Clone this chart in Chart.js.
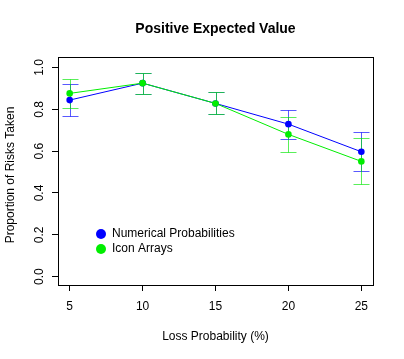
<!DOCTYPE html>
<html>
<head>
<meta charset="utf-8">
<script src="https://cdn.jsdelivr.net/npm/chart.js@4.4.1/dist/chart.umd.min.js"></script>
<style>
html,body{margin:0;padding:0;background:#fff;}
#wrap{width:404px;height:359px;}
</style>
</head>
<body>
<div id="wrap"><canvas id="c" width="404" height="359"></canvas></div>
<script>
// ---- data ----
const chartTitle = "Positive Expected Value";
const xAxisTitle = "Loss Probability (%)";
const yAxisTitle = "Proportion of Risks Taken";
const lossProb = [5, 10, 15, 20, 25];
const xTicks = [5, 10, 15, 20, 25];
const yTicks = [0.0, 0.2, 0.4, 0.6, 0.8, 1.0];
const seriesNames = ["Numerical Probabilities", "Icon Arrays"];
const numericalMean  = [0.844, 0.925, 0.828, 0.729, 0.597];
const numericalLower = [0.767, 0.874, 0.776, 0.658, 0.503];
const numericalUpper = [0.919, 0.974, 0.882, 0.798, 0.691];
const iconMean  = [0.876, 0.925, 0.828, 0.680, 0.551];
const iconLower = [0.806, 0.874, 0.776, 0.594, 0.441];
const iconUpper = [0.943, 0.974, 0.882, 0.764, 0.661];
const seriesColors = ["#0000ff", "#00ee00"];
const barColors = ["rgba(0,0,255,0.65)", "rgba(0,230,0,0.65)"];

const FONT = "'Liberation Sans', Arial, Helvetica, sans-serif";

const lows = [numericalLower, iconLower];
const highs = [numericalUpper, iconUpper];

const rStyle = {
  id: 'rStyle',
  beforeDatasetsDraw(chart) {
    const ctx = chart.ctx, xs = chart.scales.x, ys = chart.scales.y;
    ctx.save();
    ctx.lineWidth = 1;
    for (let s = 0; s < 2; s++) {
      ctx.strokeStyle = barColors[s];
      for (let i = 0; i < lossProb.length; i++) {
        const px = Math.round(xs.getPixelForValue(lossProb[i])) + 0.5;
        const pl = Math.round(ys.getPixelForValue(lows[s][i])) + 0.5;
        const ph = Math.round(ys.getPixelForValue(highs[s][i])) + 0.5;
        ctx.beginPath();
        ctx.moveTo(px, pl); ctx.lineTo(px, ph);
        ctx.moveTo(px - 8, pl); ctx.lineTo(px + 8, pl);
        ctx.moveTo(px - 8, ph); ctx.lineTo(px + 8, ph);
        ctx.stroke();
      }
    }
    ctx.restore();
  },
  afterDraw(chart) {
    const ctx = chart.ctx, a = chart.chartArea, ys = chart.scales.y;
    ctx.save();
    // box
    ctx.strokeStyle = '#000';
    ctx.lineWidth = 1;
    ctx.strokeRect(Math.round(a.left) + 0.5, Math.round(a.top) + 0.5,
                   Math.round(a.right - a.left), Math.round(a.bottom - a.top));
    ctx.fillStyle = '#000';
    // y tick labels rotated
    ctx.font = "12px " + FONT;
    ctx.textAlign = 'center';
    ctx.textBaseline = 'middle';
    yTicks.forEach(v => {
      const py = ys.getPixelForValue(v);
      ctx.save();
      ctx.translate(40, py);
      ctx.rotate(-Math.PI / 2);
      ctx.fillText(v.toFixed(1), 0, 0);
      ctx.restore();
    });
    // title
    const cx = (a.left + a.right) / 2;
    ctx.font = "bold 14px " + FONT;
    ctx.fillText(chartTitle, cx, 29);
    // x axis title
    ctx.font = "12px " + FONT;
    ctx.fillText(xAxisTitle, cx, 337);
    // y axis title
    ctx.save();
    ctx.translate(11, (a.top + a.bottom) / 2 + 4);
    ctx.rotate(-Math.PI / 2);
    ctx.fillText(yAxisTitle, 0, 0);
    ctx.restore();
    // legend
    ctx.textAlign = 'left';
    const ly = [234, 249];
    for (let s = 0; s < 2; s++) {
      ctx.fillStyle = seriesColors[s];
      ctx.beginPath();
      ctx.arc(101, ly[s], 5, 0, Math.PI * 2);
      ctx.fill();
      ctx.fillStyle = '#000';
      ctx.fillText(seriesNames[s], 112, ly[s]);
    }
    ctx.restore();
  }
};

const mk = (name, ys, color, order) => ({
  label: name,
  order: order,
  data: lossProb.map((x, i) => ({x: x, y: ys[i]})),
  borderColor: color,
  backgroundColor: color,
  borderWidth: 1,
  pointRadius: 3.3,
  pointBorderWidth: 0,
  pointHoverRadius: 3.3,
  tension: 0,
  fill: false
});

new Chart(document.getElementById('c'), {
  type: 'line',
  data: {
    datasets: [
      mk(seriesNames[0], numericalMean, seriesColors[0], 1),
      mk(seriesNames[1], iconMean, seriesColors[1], 0)
    ]
  },
  options: {
    responsive: false,
    animation: false,
    devicePixelRatio: 1,
    layout: { padding: { left: 0, right: 31, top: 57, bottom: 0 } },
    plugins: { legend: { display: false }, title: { display: false }, tooltip: { enabled: false } },
    scales: {
      x: {
        type: 'linear',
        min: 4.2, max: 25.8,
        afterBuildTicks: s => { s.ticks = xTicks.map(v => ({value: v})); },
        afterFit: s => { s.height = 74; },
        border: { display: false },
        grid: { drawOnChartArea: false, drawTicks: true, tickLength: 6, color: '#000', lineWidth: 1 },
        ticks: { color: '#000', font: { size: 12, family: FONT }, padding: 8, maxRotation: 0, autoSkip: false }
      },
      y: {
        type: 'linear',
        min: -0.04, max: 1.05,
        afterBuildTicks: s => { s.ticks = yTicks.map(v => ({value: v})); },
        afterFit: s => { s.width = 58; },
        border: { display: false },
        grid: { drawOnChartArea: false, drawTicks: true, tickLength: 6, color: '#000', lineWidth: 1 },
        ticks: { display: false }
      }
    }
  },
  plugins: [rStyle]
});
</script>
</body>
</html>
